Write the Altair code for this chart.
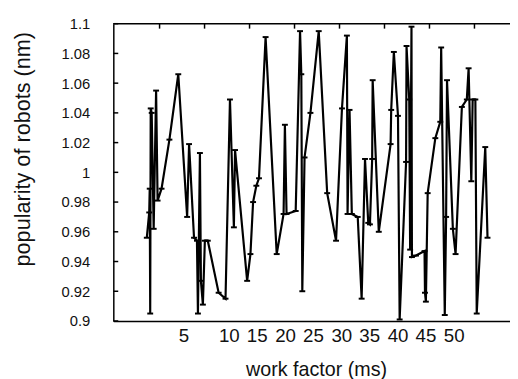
import altair as alt
import pandas as pd

# work factor (arbitrary axis units) and popularity values, in plotted order
work = [7.16, 7.70, 7.81, 7.92, 8.03, 8.25, 8.69, 9.23, 9.56, 10.44,
        12.19, 14.16, 16.13, 16.56, 17.66, 18.31, 18.53, 18.97, 19.19, 19.63,
        20.07, 20.72, 23.13, 24.66, 25.65, 26.52, 26.78, 29.47, 30.20, 30.79,
        31.51, 32.10, 33.57, 36.04, 37.57, 37.86, 38.23, 40.26, 41.23, 41.51,
        41.73, 42.23, 43.54, 45.38, 47.26, 49.23, 50.55, 51.64, 51.79, 52.23,
        52.74, 54.05, 54.92, 55.67, 56.39, 56.76, 57.26, 57.37, 58.73, 61.36,
        61.49, 62.08, 63.00, 63.37, 64.8, 64.9, 65.5, 65.7, 66.0, 66.1,
        67.0, 68.9, 69.0, 69.2, 69.6, 71.3, 72.4, 72.6, 73.4, 73.7,
        73.9, 75.2, 75.8, 77.2, 78.3, 78.7, 79.3, 79.6, 80.2, 80.5,
        82.4, 82.9]
popularity = [0.956, 0.973, 0.989, 0.905, 1.043, 1.040, 0.962, 1.055, 0.981, 0.989,
              1.022, 1.066, 0.970, 1.019, 0.956, 0.954, 0.905, 1.013, 0.927, 0.911,
              0.954, 0.954, 0.919, 0.915, 1.049, 0.963, 1.015, 0.927, 0.945, 0.980,
              0.991, 0.996, 1.091, 0.945, 0.972, 1.032, 0.972, 0.974, 1.095, 1.066,
              0.920, 1.010, 1.040, 1.095, 0.986, 0.954, 1.043, 1.092, 0.972, 1.042,
              0.972, 0.970, 0.915, 1.009, 0.966, 0.965, 1.009, 1.062, 0.960, 1.019,
              1.042, 1.081, 1.038, 0.901, 1.007, 1.085, 1.049, 0.948, 1.098, 0.943,
              0.944, 0.947, 0.919, 0.913, 0.986, 1.023, 1.034, 1.084, 0.904, 0.970,
              1.062, 0.962, 0.945, 1.044, 1.049, 1.070, 0.994, 1.049, 1.049, 0.905,
              1.017, 0.956]

y_ticks = [0.9, 0.92, 0.94, 0.96, 0.98, 1.0, 1.02, 1.04, 1.06, 1.08, 1.1]
y_labels = ["0.9", "0.92", "0.94", "0.96", "0.98", "1", "1.02", "1.04", "1.06", "1.08", "1.1"]
top_ticks = [10, 20, 30, 40, 50, 60, 70, 80]
x_label_pos = [15.3, 25.4, 31.6, 37.9, 44.1, 50.4, 56.6, 62.9, 69.1, 75.4]
x_label_text = ["5", "10", "15", "20", "25", "30", "35", "40", "45", "50"]

W, H = 403, 302
FONT = "Liberation Sans"

df = pd.DataFrame({"work": work, "pop": popularity, "idx": list(range(len(work)))})
ytick_df = pd.DataFrame({"pop": y_ticks})
top_df = pd.DataFrame({"work": top_ticks})
one_df = pd.DataFrame({"a": [0]})

xscale = alt.Scale(domain=[-0.28, 87.9], nice=False, zero=False)
yscale = alt.Scale(domain=[0.9, 1.1], nice=False, zero=False)

x_expr = ("[" + ",".join(f"'{t}'" for t in x_label_text) + "][indexof(["
          + ",".join(str(p) for p in x_label_pos) + "], datum.value)]")
y_expr = ("[" + ",".join(f"'{t}'" for t in y_labels) + "][indexof(["
          + ",".join(str(p) for p in y_ticks) + "], datum.value)]")

x_axis = alt.Axis(values=x_label_pos, labelExpr=x_expr, ticks=False, grid=False,
                  domainColor="black", domainWidth=1.5, labelFontSize=19, labelPadding=6,
                  labelColor="#111", labelFont=FONT, labelFlush=False, labelOverlap=False,
                  title="work factor (ms)", titleFont=FONT, titleFontSize=20,
                  titleFontWeight="normal", titleColor="#111", titleX=206, titleY=39,
                  titleBaseline="top", titleAlign="center")
y_axis = alt.Axis(values=y_ticks, labelExpr=y_expr, ticks=False, grid=False,
                  domainColor="black", domainWidth=1.5, labelFontSize=15, labelPadding=24,
                  labelColor="#111", labelFont=FONT, labelOverlap=False, labelFlush=False,
                  labelSeparation=0, labelBound=False,
                  title="popularity of robots (nm)", titleFont=FONT, titleFontSize=22,
                  titleFontWeight="normal", titleColor="#111", titleX=-92, titleY=127,
                  titleBaseline="middle", titleAlign="center", titleAngle=270)

line = alt.Chart(df).mark_line(color="black", strokeWidth=2.2).encode(
    x=alt.X("work:Q", scale=xscale, axis=x_axis),
    y=alt.Y("pop:Q", scale=yscale, axis=y_axis),
    order="idx:Q",
)
points = alt.Chart(df).mark_point(shape="M-1,0L1,0", size=36, filled=False,
                                   strokeWidth=2, color="black", opacity=1).encode(
    x=alt.X("work:Q", scale=xscale, axis=x_axis),
    y=alt.Y("pop:Q", scale=yscale, axis=y_axis),
)
rule_y = alt.Chart(ytick_df).mark_rule(color="black", strokeWidth=1.5).encode(
    y=alt.Y("pop:Q", scale=yscale, axis=y_axis),
    x=alt.value(0), x2=alt.value(5),
)
rule_top = alt.Chart(top_df).mark_rule(color="black", strokeWidth=1.5).encode(
    x=alt.X("work:Q", scale=xscale, axis=x_axis),
    y=alt.value(0), y2=alt.value(5),
)
border_top = alt.Chart(one_df).mark_rule(color="black", strokeWidth=1.5).encode(
    x=alt.value(0), x2=alt.value(W), y=alt.value(0),
)

chart = alt.layer(line, points, rule_y, rule_top, border_top).properties(
    width=W, height=H,
    autosize=alt.AutoSizeParams(type="none"),
    padding={"left": 107, "top": 13, "right": 0, "bottom": 56},
    background="white",
).configure_view(stroke=None).configure_axis(labelOverlap=False, labelFlush=False)

chart.save("out.html", embed_options={"renderer": "svg", "actions": False})
